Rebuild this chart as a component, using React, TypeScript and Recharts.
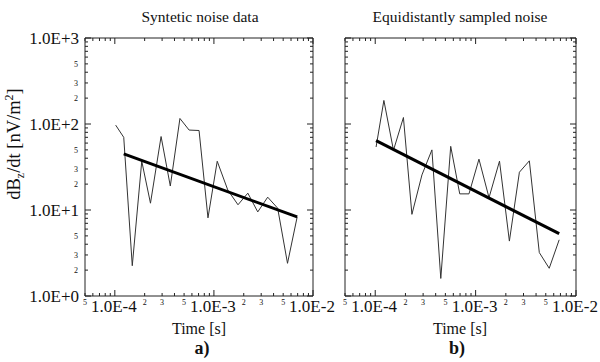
import React from "react";
import { LineChart, Line, XAxis, YAxis } from "recharts";

// log-log axes
const leftNoiseTime = [1.02e-4, 1.23e-4, 1.5e-4, 1.87e-4, 2.29e-4, 2.93e-4, 3.63e-4, 4.54e-4, 5.62e-4, 7.08e-4, 8.71e-4, 1.08e-3, 1.38e-3, 1.75e-3, 2.2e-3, 2.77e-3, 3.49e-3, 4.4e-3, 5.53e-3, 6.92e-3];
const leftNoiseValue = [97, 70, 2.25, 36.9, 12.0, 71.5, 19.0, 116, 85, 84, 8.1, 36.9, 17.1, 11.5, 15.7, 9.5, 14.1, 10.5, 2.4, 8.3];
const leftFitTime = [1.23e-4, 6.92e-3];
const leftFitValue = [45, 8.3];

const rightNoiseTime = [1.02e-4, 1.22e-4, 1.52e-4, 1.91e-4, 2.32e-4, 2.92e-4, 3.67e-4, 4.5e-4, 5.65e-4, 6.95e-4, 8.59e-4, 1.08e-3, 1.36e-3, 1.73e-3, 2.17e-3, 2.73e-3, 3.43e-3, 4.31e-3, 5.41e-3, 6.8e-3];
const rightNoiseValue = [54, 188, 49.5, 119, 8.9, 25.6, 50, 1.6, 55, 15.4, 15.4, 39, 13.9, 37, 4.35, 27.5, 37.3, 3.2, 2.1, 4.5];
const rightFitTime = [1.02e-4, 6.8e-3];
const rightFitValue = [64, 5.3];

const timeTicks = [
  5e-5, 6e-5, 7e-5, 8e-5, 9e-5,
  1e-4, 2e-4, 3e-4, 4e-4, 5e-4, 6e-4, 7e-4, 8e-4, 9e-4,
  1e-3, 2e-3, 3e-3, 4e-3, 5e-3, 6e-3, 7e-3, 8e-3, 9e-3,
  1e-2,
];
const valueTicks = [
  1, 2, 3, 4, 5, 6, 7, 8, 9,
  10, 20, 30, 40, 50, 60, 70, 80, 90,
  100, 200, 300, 400, 500, 600, 700, 800, 900,
  1000,
];
const labelledMinor = [2, 3, 5];

const ink = "#222";
const font = "'Liberation Serif', 'DejaVu Serif', serif";

const zip = (t: number[], v: number[]) => t.map((time, i) => ({ time, value: v[i] }));

const split = (v: number) => {
  const e = Math.floor(Math.log10(v) + 1e-9);
  const m = Math.round(v / Math.pow(10, e));
  return { e, m };
};
const majorText = (e: number) => `1.0E${e >= 0 ? "+" : ""}${e}`;

const BottomTick = (props: any) => {
  const { x, y, payload } = props;
  const { e, m } = split(payload.value);
  const major = m === 1;
  return (
    <g>
      <line x1={x} x2={x} y1={y} y2={y - (major ? 6 : 3)} stroke={ink} />
      {major ? (
        <text x={x - 1} y={y + 16} textAnchor="middle" fontSize={17} fontFamily={font} fill="#111">
          {majorText(e)}
        </text>
      ) : labelledMinor.includes(m) ? (
        <text x={x} y={y + 9} textAnchor="middle" fontSize={8} fontFamily={font} fill="#111">
          {m}
        </text>
      ) : null}
    </g>
  );
};

const TopTick = (props: any) => {
  const { x, y, payload } = props;
  const { m } = split(payload.value);
  return <line x1={x} x2={x} y1={y} y2={y + (m === 1 ? 6 : 3)} stroke={ink} />;
};

const LeftTick = (props: any) => {
  const { x, y, payload, showLabels } = props;
  const { e, m } = split(payload.value);
  const major = m === 1;
  return (
    <g>
      <line x1={x} x2={x + (major ? 6 : 3)} y1={y} y2={y} stroke={ink} />
      {showLabels && major ? (
        <text x={x - 6} y={y + 6} textAnchor="end" fontSize={17} fontFamily={font} fill="#111">
          {majorText(e)}
        </text>
      ) : showLabels && labelledMinor.includes(m) ? (
        <text x={x - 7} y={y + 3} textAnchor="end" fontSize={8} fontFamily={font} fill="#111">
          {m}
        </text>
      ) : null}
    </g>
  );
};

const RightTick = (props: any) => {
  const { x, y, payload } = props;
  const { m } = split(payload.value);
  return <line x1={x} x2={x - (m === 1 ? 6 : 3)} y1={y} y2={y} stroke={ink} />;
};

interface PanelProps {
  noise: { time: number; value: number }[];
  fit: { time: number; value: number }[];
  width: number;
  leftWidth: number;
  rightWidth: number;
  showLabels: boolean;
}

const Panel = ({ noise, fit, width, leftWidth, rightWidth, showLabels }: PanelProps) => (
  <LineChart width={width} height={362} margin={{ top: 0, right: 0, bottom: 0, left: 0 }}>
    <XAxis
      xAxisId="bottom"
      dataKey="time"
      type="number"
      scale="log"
      domain={[5e-5, 1e-2]}
      allowDataOverflow
      ticks={timeTicks}
      interval={0}
      height={66}
      tickSize={0}
      tickMargin={0}
      tickLine={false}
      axisLine={{ stroke: ink }}
      tick={<BottomTick />}
    />
    <XAxis
      xAxisId="top"
      orientation="top"
      dataKey="time"
      type="number"
      scale="log"
      domain={[5e-5, 1e-2]}
      allowDataOverflow
      ticks={timeTicks}
      interval={0}
      height={38}
      tickSize={0}
      tickMargin={0}
      tickLine={false}
      axisLine={{ stroke: ink }}
      tick={<TopTick />}
    />
    <YAxis
      yAxisId="left"
      type="number"
      scale="log"
      domain={[1, 1000]}
      allowDataOverflow
      ticks={valueTicks}
      interval={0}
      width={leftWidth}
      tickSize={0}
      tickMargin={0}
      tickLine={false}
      axisLine={{ stroke: ink }}
      tick={<LeftTick showLabels={showLabels} />}
    />
    <YAxis
      yAxisId="right"
      orientation="right"
      type="number"
      scale="log"
      domain={[1, 1000]}
      allowDataOverflow
      ticks={valueTicks}
      interval={0}
      width={rightWidth}
      tickSize={0}
      tickMargin={0}
      tickLine={false}
      axisLine={{ stroke: ink }}
      tick={<RightTick />}
    />
    <Line
      data={noise}
      xAxisId="bottom"
      yAxisId="left"
      dataKey="value"
      type="linear"
      stroke="#333"
      strokeWidth={1}
      dot={false}
      isAnimationActive={false}
    />
    <Line
      data={fit}
      xAxisId="bottom"
      yAxisId="left"
      dataKey="value"
      type="linear"
      stroke="#000"
      strokeWidth={3}
      dot={false}
      isAnimationActive={false}
    />
  </LineChart>
);

const label = (x: number, y: number, size: number, bold = false): React.CSSProperties => ({
  position: "absolute",
  left: x,
  top: y,
  transform: "translate(-50%, -50%)",
  fontSize: size,
  fontWeight: bold ? "bold" : "normal",
  whiteSpace: "nowrap",
  color: "#111",
});

export default function App() {
  return (
    <div
      style={{
        position: "absolute",
        left: 0,
        top: 0,
        width: 600,
        height: 362,
        background: "#fff",
        fontFamily: font,
        overflow: "hidden",
      }}
    >
      <div style={{ position: "absolute", left: 0, top: 0 }}>
        <Panel
          noise={zip(leftNoiseTime, leftNoiseValue)}
          fit={zip(leftFitTime, leftFitValue)}
          width={340}
          leftWidth={85}
          rightWidth={27}
          showLabels
        />
      </div>
      <div style={{ position: "absolute", left: 330, top: 0 }}>
        <Panel
          noise={zip(rightNoiseTime, rightNoiseValue)}
          fit={zip(rightFitTime, rightFitValue)}
          width={270}
          leftWidth={15}
          rightWidth={24}
          showLabels={false}
        />
      </div>

      <div style={label(200, 17, 15.5)}>Syntetic noise data</div>
      <div style={label(460, 17, 15.5)}>Equidistantly sampled noise</div>

      <div style={{ ...label(15, 144, 18.5), transform: "translate(-50%, -50%) rotate(-90deg)" }}>
        dB<sub style={{ fontSize: 12 }}>z</sub>/dt [nV/m<sup style={{ fontSize: 12 }}>2</sup>]
      </div>

      <div style={label(199, 329, 16)}>Time [s]</div>
      <div style={label(460, 329, 16)}>Time [s]</div>
      <div style={label(202, 348, 18, true)}>a)</div>
      <div style={label(457, 348, 18, true)}>b)</div>
    </div>
  );
}
